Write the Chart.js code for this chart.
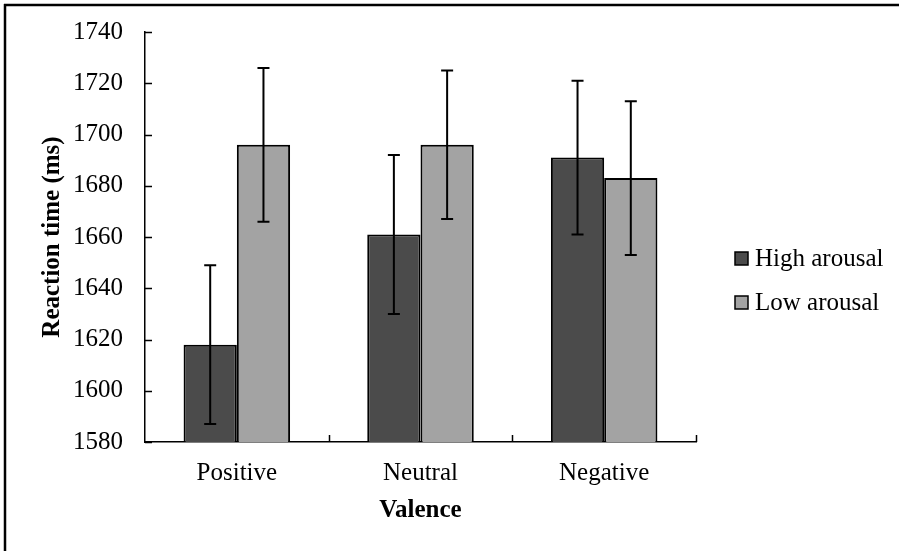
<!DOCTYPE html>
<html>
<head>
<meta charset="utf-8">
<script src="https://cdn.jsdelivr.net/npm/chart.js@4"></script>
<style>
  html, body { margin: 0; padding: 0; background: #fff; }
  #wrap { width: 899px; height: 551px; }
</style>
</head>
<body>
<div id="wrap"><canvas id="chart" width="899" height="551"></canvas></div>
<script>
// -------------------------
// DATA
// -------------------------
const categories = ['Positive', 'Neutral', 'Negative'];
const highArousal = [1618, 1661, 1691];
const lowArousal = [1696, 1696, 1683];
const highArousalErr = [31, 31, 30];
const lowArousalErr = [30, 29, 30];
const seriesNames = ['High arousal', 'Low arousal'];

const FONT = "'Liberation Serif', 'Times New Roman', serif";

// -------------------------
// Plugins
// -------------------------
// error bars drawn from the y scale
const errorBars = {
  id: 'errorBars',
  afterDatasetsDraw(chart) {
    const ctx = chart.ctx;
    const y = chart.scales.y;
    ctx.save();
    ctx.strokeStyle = '#000';
    ctx.lineWidth = 2;
    chart.data.datasets.forEach((ds, di) => {
      const meta = chart.getDatasetMeta(di);
      meta.data.forEach((bar, i) => {
        const v = ds.data[i], e = ds.err[i];
        const top = y.getPixelForValue(v + e), bot = y.getPixelForValue(v - e);
        ctx.beginPath();
        ctx.moveTo(bar.x, top); ctx.lineTo(bar.x, bot);
        ctx.moveTo(bar.x - 6, top); ctx.lineTo(bar.x + 6, top);
        ctx.moveTo(bar.x - 6, bot); ctx.lineTo(bar.x + 6, bot);
        ctx.stroke();
      });
    });
    ctx.restore();
  }
};

// inward tick marks + frame + legend
const decorations = {
  id: 'decorations',
  afterDraw(chart) {
    const ctx = chart.ctx;
    const { left, right, bottom } = chart.chartArea;
    const y = chart.scales.y;
    ctx.save();
    ctx.strokeStyle = '#000';
    ctx.lineWidth = 1.5;
    ctx.beginPath();
    y.ticks.forEach((t, i) => {
      const py = Math.round(y.getPixelForTick(i)) + 0.5;
      ctx.moveTo(left, py); ctx.lineTo(left + 7, py);
    });
    const step = (right - left) / categories.length;
    for (let k = 1; k <= categories.length; k++) {
      const px = Math.round(left + k * step) + 0.5;
      ctx.moveTo(px, bottom); ctx.lineTo(px, bottom - 7);
    }
    ctx.stroke();

    // frame (top and left only)
    ctx.lineWidth = 2.5;
    ctx.beginPath();
    ctx.moveTo(4, 5); ctx.lineTo(chart.width, 5);
    ctx.moveTo(5, 4); ctx.lineTo(5, chart.height);
    ctx.stroke();

    // legend
    ctx.font = '25px ' + FONT;
    ctx.textBaseline = 'middle';
    chart.data.datasets.forEach((ds, di) => {
      const cy = 258 + di * 44;
      const bx = right + 39;
      ctx.fillStyle = ds.backgroundColor;
      ctx.fillRect(bx, cy - 6, 13, 13);
      ctx.lineWidth = 1.5;
      ctx.strokeRect(bx, cy - 6, 13, 13);
      ctx.fillStyle = '#000';
      ctx.fillText(ds.label, bx + 20, cy + 1);
    });
    ctx.restore();
  }
};

// -------------------------
// Chart
// -------------------------
const ctx = document.getElementById('chart').getContext('2d');
new Chart(ctx, {
  type: 'bar',
  data: {
    labels: categories,
    datasets: [
      { label: seriesNames[0], data: highArousal, err: highArousalErr, backgroundColor: '#4b4b4b', borderColor: '#000', borderWidth: 2, borderSkipped: false },
      { label: seriesNames[1], data: lowArousal, err: lowArousalErr, backgroundColor: '#a3a3a3', borderColor: '#000', borderWidth: 2, borderSkipped: false }
    ]
  },
  options: {
    responsive: false,
    animation: false,
    layout: { padding: { left: 38, top: 32, right: 203, bottom: 0 } },
    plugins: { legend: { display: false }, tooltip: { enabled: false } },
    datasets: { bar: { categoryPercentage: 0.58, barPercentage: 1 } },
    scales: {
      x: {
        grid: { display: false },
        border: { display: true, color: '#000', width: 1.5 },
        ticks: { color: '#000', font: { family: FONT, size: 25 }, padding: 8 },
        title: { display: true, text: 'Valence', color: '#000', font: { family: FONT, size: 25, weight: 'bold' }, padding: { top: 0, bottom: 25 } },
        afterFit(s) { s.height = 109; }
      },
      y: {
        min: 1580, max: 1740,
        grid: { display: false },
        border: { display: true, color: '#000', width: 1.5 },
        ticks: { stepSize: 20, color: '#000', font: { family: FONT, size: 25 }, padding: 14, callback: v => String(v) },
        title: { display: true, text: 'Reaction time (ms)', color: '#000', font: { family: FONT, size: 25, weight: 'bold' }, padding: 0 },
        afterFit(s) { s.width = 107; }
      }
    }
  },
  plugins: [errorBars, decorations]
});
</script>
</body>
</html>
